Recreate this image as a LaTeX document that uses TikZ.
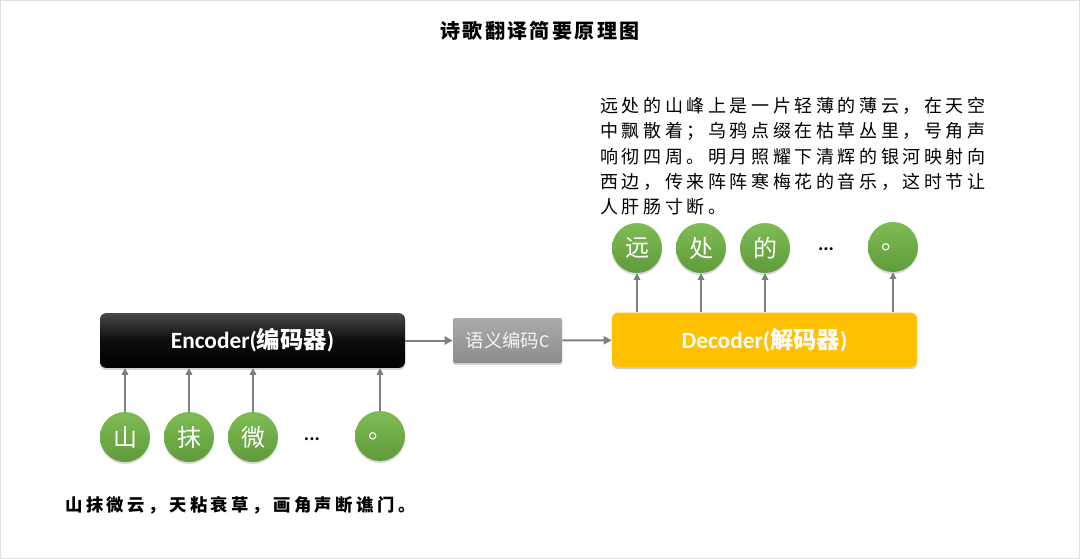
\documentclass[tikz,border=0pt]{standalone}
\usepackage{fontspec}
\setmainfont{Carlito}
\newfontfamily\cjk{Noto Sans CJK SC}
\usetikzlibrary{arrows.meta,shadows}
\definecolor{gold}{HTML}{FFC000}
\definecolor{conngray}{HTML}{7F7F7F}
\definecolor{leafA}{HTML}{80BC55}
\definecolor{leafB}{HTML}{5E9B3A}
\tikzset{
  bigbox/.style={rounded corners=4.5pt, minimum width=228.75pt, minimum height=41pt, inner sep=0pt,
    drop shadow={opacity=0.35, shadow xshift=0pt, shadow yshift=-1.5pt}},
  word/.style={circle, minimum size=37.5pt, inner sep=0pt, top color=leafA, bottom color=leafB,
    text=white, font=\cjk\fontsize{18pt}{18pt}\selectfont,
    drop shadow={opacity=0.3, shadow xshift=0pt, shadow yshift=-1.5pt}},
  conn/.style={draw=conngray, line width=1.5pt, -{Triangle[length=6pt,width=6pt]}},
  upar/.style={draw=conngray, line width=0.8pt, -{Triangle[length=5pt,width=5pt]}},
  dots/.style={font=\bfseries\fontsize{15pt}{15pt}\selectfont},
  para/.style={anchor=west, inner sep=0pt, font=\cjk\fontsize{13.5pt}{13.5pt}\selectfont\addfontfeatures{LetterSpace=20}},
}
\begin{document}
\begin{tikzpicture}[x=0.75pt,y=-0.75pt]
\useasboundingbox (0,0) rectangle (1080,559);
\draw[draw=black!12, line width=0.75pt] (0.5,0.5) rectangle (1079.5,558.5);

% title
\node[inner sep=0pt, font=\cjk\bfseries\fontsize{15pt}{15pt}\selectfont\addfontfeatures{LetterSpace=12}] (title) at (540,31) {诗歌翻译简要原理图};

% main boxes
\node[bigbox, top color=black!72, bottom color=black, middle color=black!95, text=white] (enc) at (252.5,340.5)
  {\fontsize{17.5pt}{17.5pt}\selectfont\bfseries Encoder(\cjk\bfseries 编码器\normalfont\bfseries)};
\node[rounded corners=1.5pt, minimum width=81.75pt, minimum height=33.75pt, inner sep=0pt,
  top color=black!33, bottom color=black!45, text=black!4,
  drop shadow={opacity=0.3, shadow xshift=0pt, shadow yshift=-1.5pt},
  font=\fontsize{13.75pt}{13.75pt}\selectfont] (sem) at (507.5,340.5) {{\cjk 语义编码}C};
\node[bigbox, fill=gold, text=white] (dec) at (764.5,340)
  {\fontsize{17.5pt}{17.5pt}\selectfont\bfseries Decoder(\cjk\bfseries 解码器\normalfont\bfseries)};

\draw[conn] (enc) -- (sem);
\draw[conn] (sem) -- (dec);

% input words
\node[word] (i1) at (125,437) {山};
\node[word] (i2) at (189,437) {抹};
\node[word] (i3) at (253,437) {微};
\node[dots] (idots) at (312,439) {...};
\node[word] (i4) at (380,436) {。};
\foreach \n in {i1,i2,i3,i4}
  \draw[upar] (\n.north) -- (\n.north |- enc.south);

% output words
\node[word] (o1) at (637,248) {远};
\node[word] (o2) at (701,248) {处};
\node[word] (o3) at (765,248) {的};
\node[dots] (odots) at (826,249) {...};
\node[word] (o4) at (893,247) {。};
\foreach \n in {o1,o2,o3,o4}
  \draw[upar] (dec.north -| \n.south) -- (\n.south);

% translation paragraph
\node[para] (p1) at (600,106) {远处的山峰上是一片轻薄的薄云，在天空};
\node[para] (p2) at (600,131) {中飘散着；乌鸦点缀在枯草丛里，号角声};
\node[para] (p3) at (600,157) {响彻四周。明月照耀下清辉的银河映射向};
\node[para] (p4) at (600,182) {西边，传来阵阵寒梅花的音乐，这时节让};
\node[para] (p5) at (600,207) {人肝肠寸断。};

% original poem
\node[anchor=west, inner sep=0pt, font=\cjk\bfseries\fontsize{13pt}{13pt}\selectfont\addfontfeatures{LetterSpace=20}] (poem) at (65,505)
  {山抹微云，天粘衰草，画角声断谯门。};
\end{tikzpicture}
\end{document}
